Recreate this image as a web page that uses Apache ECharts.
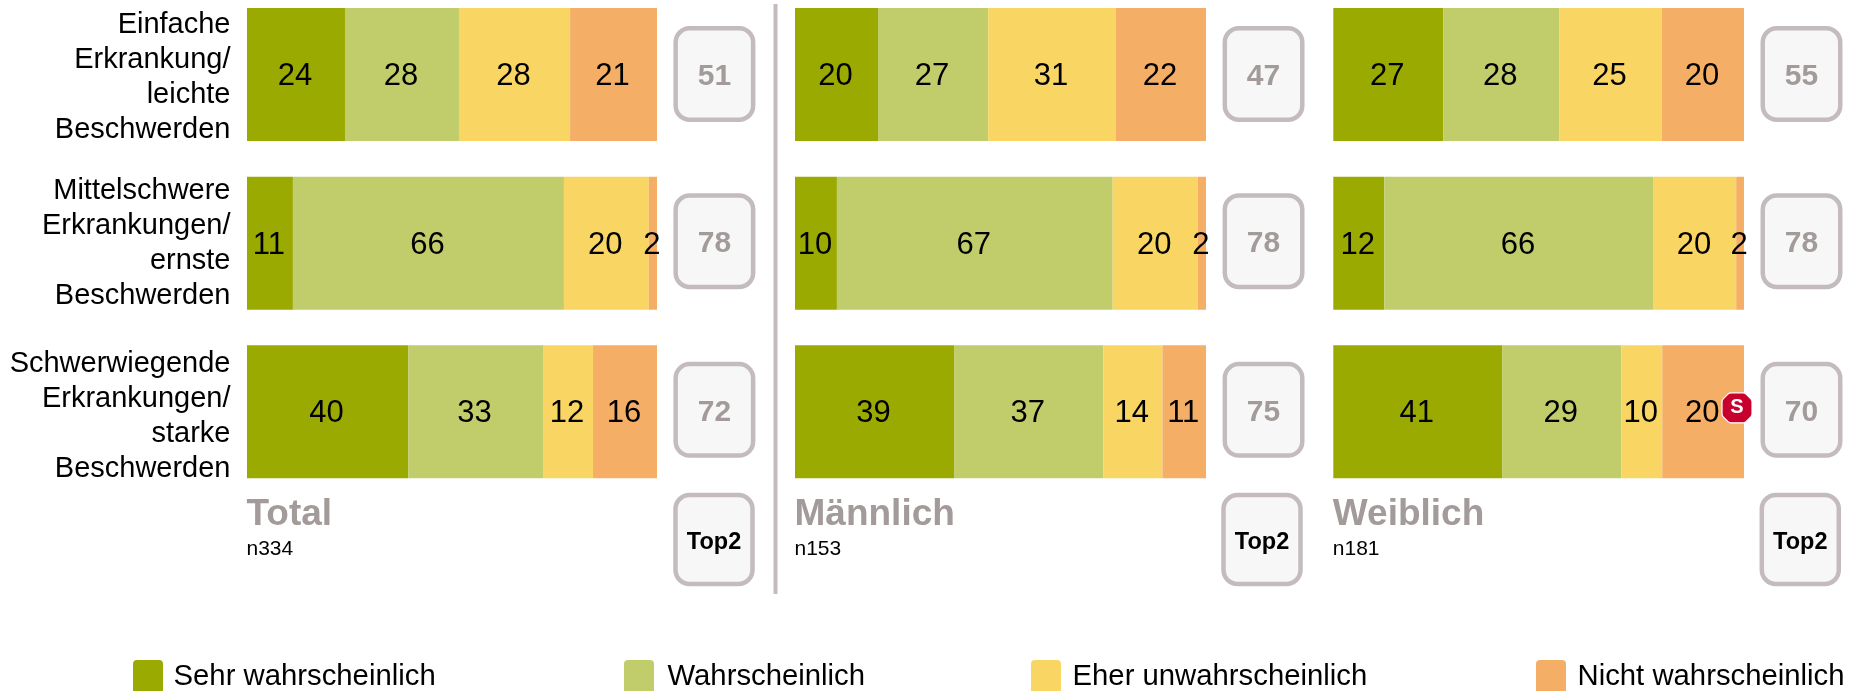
<!DOCTYPE html>
<html>
<head>
<meta charset="utf-8">
<style>html,body{margin:0;padding:0;background:#fff;overflow:hidden}#c{width:1852px;height:691px}</style>
<script src="https://cdn.jsdelivr.net/npm/echarts@6/dist/echarts.min.js"></script>
</head>
<body>
<div id="c"></div>
<script>
const rowNames = ['Einfache\nErkrankung/\nleichte\nBeschwerden', 'Mittelschwere\nErkrankungen/\nernste\nBeschwerden', 'Schwerwiegende\nErkrankungen/\nstarke\nBeschwerden'];
const answerNames = ['Sehr wahrscheinlich', 'Wahrscheinlich', 'Eher unwahrscheinlich', 'Nicht wahrscheinlich'];
const panelNames = ['Total', 'Männlich', 'Weiblich'];
const panelBases = ['n334', 'n153', 'n181'];
const top2Heading = 'Top2';

// one inner list per answer, one value per row; widths
const totalWidths = [[23.9, 11.2, 39.3], [27.8, 66.1, 32.9], [27.1, 20.7, 12.2], [21.2, 2.0, 15.6]];
const maleWidths = [[20.2, 10.2, 38.7], [26.8, 67.1, 36.3], [31.1, 20.7, 14.4], [21.9, 2.0, 10.6]];
const femaleWidths = [[26.8, 12.4, 41.1], [28.2, 65.6, 29.0], [25.0, 20.1, 10.0], [20.0, 1.9, 19.9]];
// printed numbers
const totalLabels = [[24, 11, 40], [28, 66, 33], [28, 20, 12], [21, 2, 16]];
const maleLabels = [[20, 10, 39], [27, 67, 37], [31, 20, 14], [22, 2, 11]];
const femaleLabels = [[27, 12, 41], [28, 66, 29], [25, 20, 10], [20, 2, 20]];
const totalTop2 = [51, 78, 72];
const maleTop2 = [47, 78, 75];
const femaleTop2 = [55, 78, 70];

const colors = ['#9aaa00', '#c0cd6a', '#f9d664', '#f5ae65'];
const FONT = '"Liberation Sans", Arial, sans-serif';
const GREY = '#a39a9a', EDGE = '#c4bcbc', BOXFILL = '#f7f7f7';
const lefts = [247, 795, 1333.3], widths = [410, 411, 410.7];
const allWidths = [totalWidths, maleWidths, femaleWidths];
const allLabels = [totalLabels, maleLabels, femaleLabels];
const allTop2 = [totalTop2, maleTop2, femaleTop2];
const BOX_X = 114, boxShift = [-0.5, -2, -2];

const grids = [], xAxes = [], yAxes = [], series = [], graphics = [];

function boxItem(cx, cy, w, h, text, color, size, textShift) {
  return {
    type: 'group',
    children: [
      {type: 'rect', shape: {x: cx - w / 2, y: cy - h / 2, width: w, height: h, r: 14},
       style: {fill: BOXFILL, stroke: EDGE, lineWidth: 4.5}},
      {type: 'text', style: {x: cx, y: cy + textShift, text: String(text), align: 'center', verticalAlign: 'middle',
        fontFamily: FONT, fontWeight: 'bold', fontSize: size, fill: color}}
    ]
  };
}

panelNames.forEach((name, p) => {
  grids.push({left: lefts[p], width: widths[p], top: -9.8, height: 506, containLabel: false, outerBoundsMode: 'none'});
  xAxes.push({type: 'value', gridIndex: p, min: 0, max: 100, show: false});
  yAxes.push({
    type: 'category', gridIndex: p, inverse: true, data: rowNames,
    axisLine: {show: false}, axisTick: {show: false},
    axisLabel: p === 0 ? {
      show: true, margin: 16.5, align: 'right',
      formatter: (v, i) => {
        const body = v.split('\n').map(l => '{t|' + l + '}').join('\n');
        return ['{a| }\n', '', '{b| }\n'][i] + body;
      },
      rich: {
        t: {fontFamily: FONT, fontSize: 29, lineHeight: 35, color: '#000', align: 'right'},
        a: {fontSize: 1, lineHeight: 5},
        b: {fontSize: 1, lineHeight: 9}
      }
    } : {show: false}
  });
  answerNames.forEach((a, s) => {
    series.push({
      type: 'bar', name: a, stack: 'p' + p, xAxisIndex: p, yAxisIndex: p, barWidth: 133,
      itemStyle: {color: colors[s]}, data: allWidths[p][s],
      label: {
        show: true, position: 'inside', offset: [-1, 2], color: '#000', fontFamily: FONT, fontSize: 31,
        formatter: o => String(allLabels[p][s][o.dataIndex])
      }
    });
  });
  series.push({
    type: 'custom', xAxisIndex: p, yAxisIndex: p, silent: true, clip: false,
    data: allTop2[p].map((v, i) => [BOX_X, i, v]),
    renderItem: (params, api) => {
      const c = api.coord([api.value(0), api.value(1)]);
      const r = params.dataIndex;
      return boxItem(c[0], c[1] + boxShift[r], 77.5, 91.5, api.value(2), GREY, 30, 2.5);
    }
  });
  graphics.push(
    {type: 'text', left: lefts[p] - 0.5, top: 496, style: {text: name, fontFamily: FONT, fontWeight: 'bold', fontSize: 37, fill: GREY}},
    {type: 'text', left: lefts[p] - 0.5, top: 539, style: {text: panelBases[p], fontFamily: FONT, fontSize: 21, fill: '#000'}}
  );
  const bx = lefts[p] + 467;
  graphics.push(boxItem(bx, 539.5, 77, 89, top2Heading, '#000', 23.5, 3));
});

// significance marker, placed on the female panel's scale
const sigMarker = [[98.3, 2, 'S']];
series.push({
  type: 'scatter', xAxisIndex: 2, yAxisIndex: 2, data: sigMarker, silent: true, z: 10,
  symbol: 'path://M30,0 L70,0 Q76,0 80,4 L96,20 Q100,24 100,30 L100,70 Q100,76 96,80 L80,96 Q76,100 70,100 L30,100 Q24,100 20,96 L4,80 Q0,76 0,70 L0,30 Q0,24 4,20 L20,4 Q24,0 30,0 Z',
  symbolSize: 30, symbolOffset: [0, -4],
  itemStyle: {color: '#c8002d', borderColor: '#fff', borderWidth: 1.2, opacity: 1},
  label: {show: true, position: 'inside', formatter: o => o.data[2], color: '#fff', fontFamily: FONT, fontWeight: 'bold', fontSize: 20}
});

// divider
graphics.push({type: 'rect', shape: {x: 773.5, y: 4, width: 4, height: 590}, style: {fill: EDGE}});

const legendLefts = [133, 624, 1031, 1536];
const legendTextGaps = [5.5, 8.5, 6.5, 6.5];
const legends = answerNames.map((a, i) => ({
  data: [a], left: legendLefts[i], top: 660, orient: 'horizontal', padding: 0,
  icon: 'path://M4,0 L26,0 Q30,0 30,4 L30,30 Q30,34 26,34 L4,34 Q0,34 0,30 L0,4 Q0,0 4,0 Z', itemWidth: 30, itemHeight: 34, selectedMode: false,
  textStyle: {fontFamily: FONT, fontSize: 29.3, color: '#000', padding: [0, 0, 0, legendTextGaps[i]]}
}));

const chart = echarts.init(document.getElementById('c'), null, {renderer: 'canvas'});
chart.setOption({
  animation: false, backgroundColor: '#fff', tooltip: {show: false},
  grid: grids, xAxis: xAxes, yAxis: yAxes, series, legend: legends, graphic: {elements: graphics}
});
</script>
</body>
</html>
